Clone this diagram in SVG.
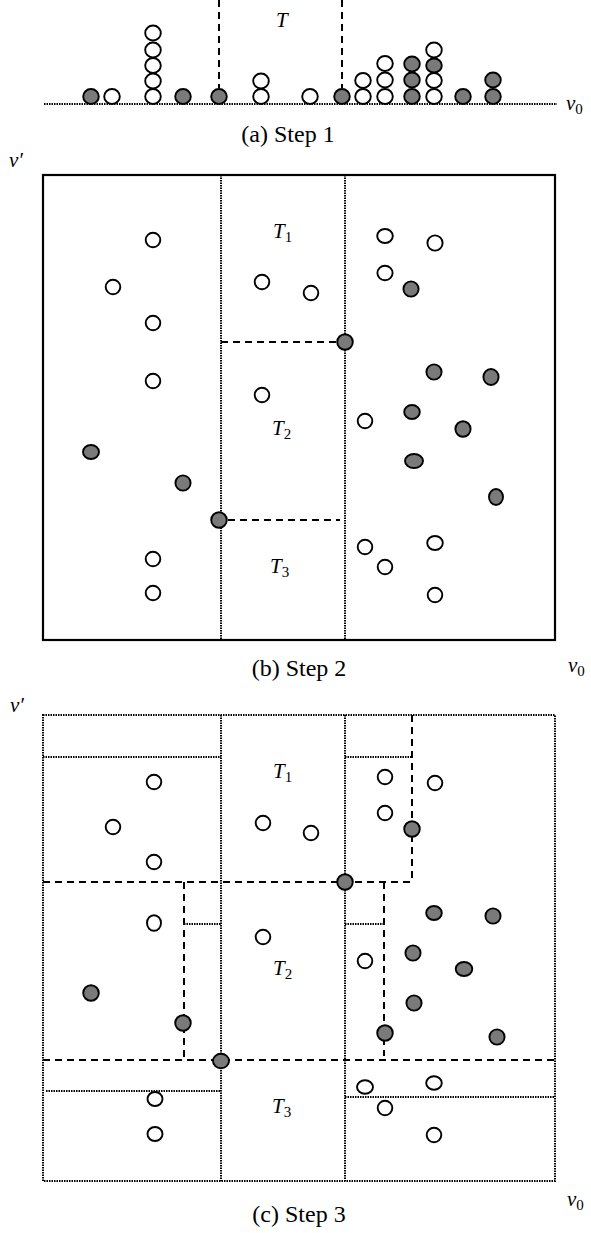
<svg xmlns="http://www.w3.org/2000/svg" width="591" height="1233" viewBox="0 0 591 1233">
<style>
text{font-family:"Liberation Serif","Times New Roman",serif;fill:#000}
.cap{font-size:24px;text-anchor:middle}
.lab{font-size:21px;font-style:italic}
.sub{font-size:15px;font-style:normal}
.w{fill:#fff;stroke:#000;stroke-width:1.9}
.g{fill:#7a7a7a;stroke:#000;stroke-width:1.9}
.dot{fill:none;stroke:#000;stroke-width:2;stroke-dasharray:1.5 1}
.dash{fill:none;stroke:#000;stroke-width:2;stroke-dasharray:7 5}
.solid{fill:none;stroke:#000;stroke-width:2.2}
</style>
<rect width="591" height="1233" fill="#fff"/>

<!-- Panel (a) -->
<g id="panel-a">
  <g id="a-lines">
    <line class="dot" x1="44" y1="104" x2="557" y2="104" stroke-width="2.2"/>
    <line class="dash" x1="219" y1="0" x2="219" y2="88"/>
    <line class="dash" x1="342" y1="0" x2="342" y2="88"/>
  </g>
  <g id="a-points">
    <ellipse class="g" cx="91" cy="96.5" rx="7.8" ry="7.5"/>
    <ellipse class="w" cx="112" cy="96.5" rx="7.8" ry="7.5"/>
    <ellipse class="w" cx="153" cy="96.5" rx="7.8" ry="7.5"/>
    <ellipse class="w" cx="153" cy="81" rx="7.8" ry="7.5"/>
    <ellipse class="w" cx="153" cy="65.5" rx="7.8" ry="7.5"/>
    <ellipse class="w" cx="153" cy="50" rx="7.8" ry="7.5"/>
    <ellipse class="w" cx="153" cy="33" rx="7.8" ry="7.5"/>
    <ellipse class="g" cx="183" cy="96.5" rx="7.8" ry="7.5"/>
    <ellipse class="g" cx="219" cy="96.5" rx="7.8" ry="7.5"/>
    <ellipse class="w" cx="261" cy="96.5" rx="7.8" ry="7.5"/>
    <ellipse class="w" cx="261" cy="81" rx="7.8" ry="7.5"/>
    <ellipse class="w" cx="310" cy="96.5" rx="7.8" ry="7.5"/>
    <ellipse class="g" cx="342" cy="96.5" rx="7.8" ry="7.5"/>
    <ellipse class="w" cx="363" cy="96.5" rx="7.8" ry="7.5"/>
    <ellipse class="w" cx="363" cy="80.5" rx="7.8" ry="7.5"/>
    <ellipse class="w" cx="385" cy="96.5" rx="7.8" ry="7.5"/>
    <ellipse class="w" cx="385" cy="80" rx="7.8" ry="7.5"/>
    <ellipse class="w" cx="385" cy="63.5" rx="7.8" ry="7.5"/>
    <ellipse class="g" cx="412" cy="96.5" rx="7.8" ry="7.5"/>
    <ellipse class="g" cx="412" cy="80" rx="7.8" ry="7.5"/>
    <ellipse class="g" cx="412" cy="64" rx="7.8" ry="7.5"/>
    <ellipse class="w" cx="434" cy="96.5" rx="7.8" ry="7.5"/>
    <ellipse class="w" cx="434" cy="80.5" rx="7.8" ry="7.5"/>
    <ellipse class="g" cx="434" cy="65.5" rx="7.8" ry="7"/>
    <ellipse class="w" cx="434" cy="50" rx="7.8" ry="7.5"/>
    <ellipse class="g" cx="463" cy="96.5" rx="7.8" ry="7.5"/>
    <ellipse class="g" cx="493" cy="96.5" rx="7.8" ry="7.5"/>
    <ellipse class="g" cx="493" cy="80" rx="7.8" ry="7.5"/>
  </g>
  <text class="lab" x="276" y="27">T</text>
  <text class="lab" x="566" y="110">v<tspan class="sub" dy="4">0</tspan></text>
  <text class="cap" x="288" y="142">(a) Step 1</text>
</g>

<!-- Panel (b) -->
<g id="panel-b">
  <g id="b-lines">
    <rect class="solid" x="43" y="175" width="512" height="465"/>
    <line class="dot" x1="221" y1="175" x2="221" y2="640"/>
    <line class="dot" x1="345" y1="175" x2="345" y2="640"/>
    <line class="dash" x1="221" y1="342" x2="338" y2="342"/>
    <line class="dash" x1="228" y1="520" x2="340" y2="520"/>
  </g>
  <g id="b-points">
    <circle class="w" cx="153" cy="240" r="7.3"/>
    <circle class="w" cx="113" cy="287" r="7.3"/>
    <circle class="w" cx="153" cy="323" r="7.3"/>
    <circle class="w" cx="153" cy="381" r="7.3"/>
    <ellipse class="g" cx="91" cy="452" rx="8" ry="7"/>
    <circle class="g" cx="183" cy="483" r="7.6"/>
    <circle class="w" cx="153" cy="559" r="7.3"/>
    <circle class="w" cx="153" cy="593" r="7.3"/>
    <circle class="w" cx="262" cy="282" r="7.3"/>
    <circle class="w" cx="311" cy="293" r="7.3"/>
    <circle class="w" cx="262" cy="395" r="7.3"/>
    <circle class="g" cx="345" cy="342" r="7.8"/>
    <circle class="g" cx="219" cy="520" r="7.8"/>
    <ellipse class="w" cx="385" cy="236" rx="7.8" ry="7"/>
    <circle class="w" cx="435" cy="243" r="7.6"/>
    <ellipse class="w" cx="385" cy="273" rx="7.6" ry="7.3"/>
    <circle class="g" cx="411" cy="289" r="7.6"/>
    <circle class="g" cx="434" cy="372" r="7.6"/>
    <ellipse class="g" cx="491" cy="377" rx="7.6" ry="8"/>
    <circle class="w" cx="365" cy="421" r="7.3"/>
    <ellipse class="g" cx="412" cy="412" rx="7.8" ry="7"/>
    <ellipse class="g" cx="463" cy="429" rx="7.6" ry="7.8"/>
    <ellipse class="g" cx="414" cy="461" rx="9" ry="7"/>
    <ellipse class="g" cx="496" cy="497" rx="7" ry="8"/>
    <circle class="w" cx="365" cy="547" r="7.3"/>
    <ellipse class="w" cx="435" cy="543" rx="7.8" ry="7"/>
    <circle class="w" cx="385" cy="567" r="7.3"/>
    <circle class="w" cx="435" cy="595" r="7.3"/>
  </g>
  <text class="lab" x="273" y="238">T<tspan class="sub" dy="4">1</tspan></text>
  <text class="lab" x="272" y="435">T<tspan class="sub" dy="4">2</tspan></text>
  <text class="lab" x="270" y="573">T<tspan class="sub" dy="4">3</tspan></text>
  <text class="lab" x="9" y="167">v′</text>
  <text class="lab" x="568" y="672">v<tspan class="sub" dy="4">0</tspan></text>
  <text class="cap" x="299" y="676">(b) Step 2</text>
</g>

<!-- Panel (c) -->
<g id="panel-c">
  <g id="c-lines">
    <rect class="dot" x="43" y="715" width="512" height="466" stroke-width="2.2"/>
    <line class="dot" x1="221" y1="715" x2="221" y2="1181"/>
    <line class="dot" x1="345" y1="715" x2="345" y2="1181"/>
    <line class="dot" x1="43" y1="757" x2="221" y2="757"/>
    <line class="dot" x1="345" y1="757" x2="412" y2="757"/>
    <line class="dash" x1="412" y1="715" x2="412" y2="882"/>
    <line class="dash" x1="43" y1="882" x2="412" y2="882"/>
    <line class="dash" x1="184" y1="882" x2="184" y2="1060"/>
    <line class="dot" x1="184" y1="924" x2="221" y2="924"/>
    <line class="dash" x1="384" y1="882" x2="384" y2="1056"/>
    <line class="dot" x1="345" y1="924" x2="384" y2="924"/>
    <line class="dash" x1="43" y1="1060" x2="555" y2="1060"/>
    <line class="dot" x1="46" y1="1091" x2="221" y2="1091"/>
    <line class="dot" x1="345" y1="1097" x2="555" y2="1097"/>
  </g>
  <g id="c-points">
    <circle class="w" cx="154" cy="782" r="7.3"/>
    <circle class="w" cx="113" cy="827" r="7.3"/>
    <circle class="w" cx="154" cy="862" r="7.3"/>
    <circle class="w" cx="263" cy="823" r="7.3"/>
    <circle class="w" cx="311" cy="833" r="7.3"/>
    <circle class="w" cx="385" cy="777" r="7.3"/>
    <circle class="w" cx="435" cy="783" r="7.3"/>
    <circle class="w" cx="385" cy="813" r="7.3"/>
    <circle class="g" cx="412" cy="829" r="7.8"/>
    <circle class="g" cx="345" cy="882" r="7.8"/>
    <ellipse class="w" cx="154" cy="923" rx="7" ry="7.8"/>
    <circle class="w" cx="263" cy="937" r="7.3"/>
    <circle class="g" cx="91" cy="993" r="7.8"/>
    <circle class="g" cx="183" cy="1023" r="7.8"/>
    <ellipse class="g" cx="221" cy="1061" rx="8" ry="7.3"/>
    <ellipse class="w" cx="155" cy="1099" rx="7.5" ry="7"/>
    <ellipse class="w" cx="155" cy="1134" rx="7.5" ry="7"/>
    <ellipse class="g" cx="434" cy="913" rx="7.8" ry="7"/>
    <circle class="g" cx="493" cy="916" r="7.6"/>
    <circle class="w" cx="365" cy="961" r="7.3"/>
    <circle class="g" cx="413" cy="953" r="7.6"/>
    <ellipse class="g" cx="464" cy="969" rx="8.3" ry="7"/>
    <circle class="g" cx="414" cy="1003" r="7.6"/>
    <circle class="g" cx="385" cy="1033" r="7.8"/>
    <circle class="g" cx="497" cy="1037" r="7.6"/>
    <ellipse class="w" cx="365" cy="1087" rx="8" ry="6.8"/>
    <ellipse class="w" cx="434" cy="1083" rx="7.8" ry="6.8"/>
    <circle class="w" cx="385" cy="1108" r="7.3"/>
    <circle class="w" cx="434" cy="1135" r="7.3"/>
  </g>
  <text class="lab" x="273" y="778">T<tspan class="sub" dy="4">1</tspan></text>
  <text class="lab" x="273" y="975">T<tspan class="sub" dy="4">2</tspan></text>
  <text class="lab" x="272" y="1113">T<tspan class="sub" dy="4">3</tspan></text>
  <text class="lab" x="10" y="712">v′</text>
  <text class="lab" x="567" y="1206">v<tspan class="sub" dy="4">0</tspan></text>
  <text class="cap" x="299" y="1222">(c) Step 3</text>
</g>
</svg>
